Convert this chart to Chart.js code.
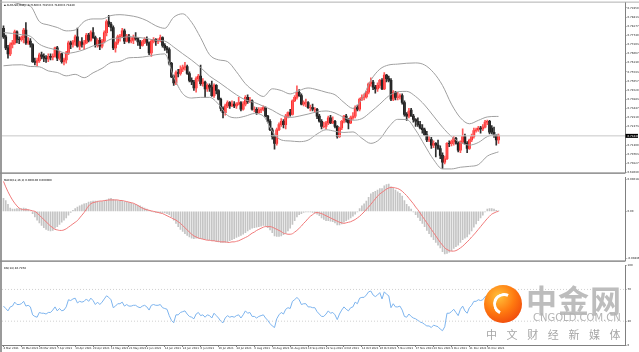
<!DOCTYPE html>
<html>
<head>
<meta charset="utf-8">
<title>AUDUSD Daily</title>
<script src="https://cdn.jsdelivr.net/npm/chart.js@4.4.1/dist/chart.umd.min.js"></script>
<style>
  html, body { margin:0; padding:0; background:#fff; }
  #wrap { position:relative; width:639px; height:352px; overflow:hidden; font-family:"DejaVu Sans", sans-serif; }
  .pane { position:absolute; left:0; width:639px; }
  #logo { position:absolute; left:484px; top:285px; width:38px; height:38px; border-radius:50%;
    background:radial-gradient(circle at 38% 30%, #ffc23a 0%, #ff7a10 45%, #e8300a 100%); }
  #logo:after { content:""; position:absolute; left:9px; top:8px; width:16px; height:16px; border-radius:50%;
    border:3px solid #fff; border-right-color:transparent; border-bottom-color:transparent; transform:rotate(-20deg); }
  .wm { position:absolute; white-space:nowrap; font-family:"Noto Sans CJK SC", sans-serif; }
</style>
</head>
<body>
<div id="wrap">
  <div class="pane" style="top:0;height:175px"><canvas id="mainChart"></canvas></div>
  <div class="pane" style="top:175px;height:88px"><canvas id="macdChart"></canvas></div>
  <div class="pane" style="top:263px;height:89px"><canvas id="rsiChart"></canvas></div>
  <div id="logo"></div>
  <div class="wm" style="left:526px;top:276px;font-size:31px;font-weight:bold;color:#bdbdbd;letter-spacing:1px">中金网</div>
  <div class="wm" style="left:533px;top:312px;font-size:10px;color:#b4b4b4;font-family:'DejaVu Sans'">CNGOLD.COM.CN</div>
  <div class="wm" style="left:486px;top:326px;font-size:11px;color:#a6a6a6;letter-spacing:9.6px">中文财经新媒体</div>
</div>
<script>
// AUDUSD daily, 4 Mar 2021 .. 7 Jan 2022, prices in 1/10000
var dateTicks = ["4 Mar 2021","16 Mar 2021","26 Mar 2021","7 Apr 2021","19 Apr 2021","29 Apr 2021","11 May 2021",
  "21 May 2021","2 Jun 2021","14 Jun 2021","24 Jun 2021","6 Jul 2021","16 Jul 2021","28 Jul 2021","9 Aug 2021",
  "19 Aug 2021","31 Aug 2021","10 Sep 2021","22 Sep 2021","4 Oct 2021","14 Oct 2021","26 Oct 2021","5 Nov 2021",
  "17 Nov 2021","29 Nov 2021","9 Dec 2021","21 Dec 2021","31 Dec 2021"]

var opens = [
7815,7765,7700,7665,7720,7730,7795,7750,7748,7760, 7805,7730,7740,7720,7620,7615,7625,7660,7650,7640,
7635,7650,7645,7650,7700,7640,7665,7620,7630,7670, 7730,7720,7735,7765,7710,7735,7720,7730,7775,7745,
7790,7760,7715,7745,7710,7740,7790,7855,7840,7820, 7700,7730,7765,7770,7800,7740,7770,7740,7745,7760,
7755,7735,7715,7735,7750,7730,7670,7740,7750,7740, 7745,7760,7715,7700,7690,7610,7530,7495,7555,7550,
7575,7585,7590,7550,7510,7500,7465,7520,7535,7490, 7500,7460,7480,7470,7420,7480,7450,7400,7345,7320,
7360,7380,7360,7370,7360,7370,7380,7340,7370,7410, 7385,7390,7340,7340,7320,7335,7340,7350,7300,7270,
7220,7180,7140,7220,7250,7270,7250,7300,7320,7310, 7390,7410,7440,7420,7370,7380,7380,7350,7350,7340,
7340,7300,7270,7240,7240,7260,7290,7260,7270,7240, 7180,7230,7270,7300,7280,7260,7290,7300,7350,7340,
7400,7410,7412,7440,7490,7500,7470,7460,7480,7510, 7460,7540,7520,7510,7400,7440,7410,7412,7420,7380,
7310,7300,7335,7300,7280,7270,7250,7230,7220,7190, 7160,7162,7130,7140,7130,7110,7070,7030,7050,7140,
7138,7150,7170,7140,7100,7150,7180,7140,7110,7160, 7180,7215,7220,7230,7225,7235,7265,7270,7230,7205,
7185,7160]
var highs = [
7830,7775,7715,7730,7745,7805,7800,7765,7770,7815, 7848,7760,7755,7725,7640,7640,7670,7675,7665,7655,
7665,7665,7665,7705,7710,7680,7670,7640,7680,7740, 7740,7745,7775,7816,7740,7760,7745,7785,7785,7800,
7820,7770,7755,7760,7750,7800,7865,7891,7850,7830, 7735,7775,7780,7815,7810,7780,7780,7760,7775,7790,
7760,7745,7745,7760,7765,7735,7750,7760,7755,7755, 7775,7765,7725,7710,7700,7615,7540,7565,7575,7595,
7600,7615,7600,7560,7525,7510,7530,7545,7600,7520, 7505,7490,7490,7505,7490,7485,7455,7405,7355,7370,
7390,7385,7390,7385,7380,7410,7385,7385,7420,7425, 7410,7395,7355,7350,7350,7350,7360,7355,7305,7280,
7230,7185,7230,7260,7285,7280,7310,7325,7340,7395, 7420,7478,7455,7430,7390,7400,7385,7365,7370,7350,
7345,7310,7280,7265,7270,7300,7305,7295,7275,7245, 7235,7275,7305,7310,7285,7300,7320,7360,7365,7405,
7425,7430,7445,7495,7525,7510,7480,7495,7515,7520, 7556,7545,7535,7520,7450,7445,7440,7430,7430,7390,
7320,7345,7345,7310,7285,7290,7270,7250,7230,7210, 7180,7175,7155,7145,7160,7125,7085,7065,7145,7155,
7160,7180,7175,7150,7155,7225,7195,7150,7165,7195, 7230,7230,7240,7240,7250,7275,7277,7275,7245,7236,
7190,7195]
var lows = [
7755,7690,7640,7655,7700,7720,7730,7725,7740,7730, 7720,7720,7705,7615,7600,7595,7615,7635,7620,7615,
7620,7630,7630,7645,7625,7630,7610,7600,7610,7660, 7695,7705,7715,7705,7690,7705,7690,7725,7735,7740,
7755,7705,7705,7690,7700,7730,7770,7825,7800,7690, 7675,7720,7740,7760,7725,7735,7730,7730,7725,7745,
7715,7695,7710,7725,7715,7660,7650,7730,7715,7725, 7735,7705,7685,7670,7600,7525,7480,7485,7530,7540,
7560,7570,7545,7500,7485,7450,7440,7505,7480,7475, 7410,7445,7445,7415,7410,7430,7395,7330,7290,7305,
7350,7345,7355,7350,7345,7365,7330,7335,7360,7375, 7380,7335,7325,7310,7315,7320,7330,7295,7260,7215,
7165,7106,7130,7215,7240,7230,7225,7290,7300,7305, 7385,7400,7415,7365,7360,7355,7345,7330,7330,7320,
7285,7265,7225,7230,7225,7250,7255,7255,7230,7170, 7175,7220,7260,7265,7225,7255,7280,7290,7330,7330,
7390,7395,7405,7430,7475,7455,7435,7445,7465,7455, 7455,7500,7500,7390,7390,7395,7395,7400,7370,7300,
7275,7290,7300,7265,7240,7240,7225,7200,7185,7150, 7150,7110,7115,7060,7105,7050,6993,7020,7045,7120,
7125,7130,7135,7090,7085,7140,7135,7085,7105,7150, 7170,7205,7210,7200,7215,7230,7250,7195,7195,7175,
7130,7140]
var closes = [
7765,7700,7665,7720,7730,7795,7750,7748,7760,7805, 7730,7740,7720,7620,7615,7625,7660,7650,7640,7635,
7650,7645,7650,7700,7640,7665,7620,7630,7670,7730, 7720,7735,7765,7710,7735,7720,7730,7775,7745,7790,
7760,7715,7745,7710,7740,7790,7855,7840,7820,7700, 7730,7765,7770,7800,7740,7770,7740,7745,7760,7755,
7735,7715,7735,7750,7730,7670,7740,7750,7740,7745, 7760,7715,7700,7690,7610,7530,7495,7555,7550,7575,
7585,7590,7550,7510,7500,7465,7520,7535,7490,7500, 7460,7480,7470,7420,7480,7450,7400,7345,7320,7360,
7380,7360,7370,7360,7370,7380,7340,7370,7410,7385, 7390,7340,7340,7320,7335,7340,7350,7300,7270,7220,
7180,7140,7220,7250,7270,7250,7300,7320,7310,7390, 7410,7440,7420,7370,7380,7380,7350,7350,7340,7340,
7300,7270,7240,7240,7260,7290,7260,7270,7240,7180, 7230,7270,7300,7280,7260,7290,7300,7350,7340,7400,
7410,7412,7440,7490,7500,7470,7460,7480,7510,7460, 7540,7520,7510,7400,7440,7410,7412,7420,7380,7310,
7300,7330,7300,7280,7270,7250,7230,7220,7190,7160, 7162,7130,7140,7130,7110,7070,7030,7050,7140,7138,
7150,7170,7140,7100,7150,7180,7140,7110,7160,7180, 7215,7220,7230,7225,7235,7265,7270,7205,7205,7185,
7160,7184]

// Bollinger Bands (20,2), read every 4 bars
var bbBars = [0,4,8,12,16,20,24,28,32,36,40,44,48,52,56,60,64,68,72,76,80,84,88,92,96,100,104,108,112,116,
  120,124,128,132,136,140,144,148,152,156,160,164,168,172,176,180,184,188,192,196,200,204,208,212,216,220,221]
var bbMiddle = [7790,7785,7778,7768,7722,7700,7688,7668,7675,7690,7712,7725,7752,7758,7766,7762,7755,7745,7740,7705,
  7666,7628,7585,7535,7500,7462,7425,7395,7380,7358,7335,7305,7292,7300,7312,7325,7330,7318,7292,7276,
  7285,7325,7370,7418,7443,7445,7415,7365,7300,7235,7180,7145,7130,7145,7180,7192,7194]
var bbUpper = [7985,7970,7955,7945,7855,7835,7820,7800,7805,7855,7870,7870,7890,7895,7890,7880,7860,7830,7815,7880,
  7900,7850,7760,7660,7630,7620,7560,7490,7445,7415,7460,7450,7430,7450,7465,7455,7440,7425,7380,7345,
  7400,7510,7575,7600,7605,7610,7612,7600,7555,7480,7370,7290,7255,7275,7295,7298,7298]
var bbLower = [7595,7600,7601,7591,7589,7565,7556,7536,7545,7525,7554,7580,7614,7621,7642,7644,7650,7660,7665,7530,
  7432,7406,7410,7410,7370,7304,7290,7300,7315,7301,7210,7160,7154,7150,7159,7195,7220,7211,7204,7207,
  7170,7140,7165,7236,7281,7280,7218,7130,7045,6990,6990,7000,7005,7015,7065,7086,7090]

// MACD(12,26,9) main histogram and signal, in 1/10000
var macdMain = [
 24, 20, 13,  6,  4,  4,  5,  5,  5,  6,   5,  3,  1, -4,-10,-16,-21,-26,-30,-33,
-35,-36,-35,-31,-28,-24,-20,-16,-12, -7,  -2,  2,  5,  8, 10, 12, 14, 15, 17, 18,
 19, 19, 19, 18, 18, 19, 21, 23, 24, 22,  21, 20, 19, 19, 18, 17, 16, 15, 14, 13,
 11, 10,  8,  6,  4,  2,  0, -1, -2, -2,  -3, -3, -3, -4, -6,-10,-16,-22,-28,-33,
-37,-41,-44,-47,-49,-50,-49,-49,-50,-50, -51,-52,-53,-54,-54,-55,-56,-57,-57,-57,
-56,-54,-52,-50,-48,-46,-44,-42,-39,-36, -33,-31,-30,-29,-28,-27,-26,-27,-30,-34,
-39,-45,-46,-46,-45,-43,-40,-36,-31,-24, -17,-10, -6, -4, -2, -1, -1, -1, -2, -3,
 -5, -8,-12,-15,-17,-17,-18,-19,-21,-25, -25,-23,-20,-17,-15,-12, -9, -5, -1,  5,
 10, 14, 19, 26, 32, 35, 37, 39, 42, 42,  47, 49, 50, 45, 43, 39, 36, 33, 28, 20,
 13,  9,  4, -1, -6,-11,-17,-22,-28,-35, -41,-47,-52,-57,-62,-67,-74,-78,-77,-75,
-72,-68,-65,-62,-57,-52,-49,-47,-42,-36, -29,-23,-17,-12, -7, -1,  4,  5,  5,  4,
  2,  1]
var macdSignal = [
 55, 45, 36, 28, 21, 15, 10,  6,  4,  3,   3,  3,  2,  1,  0, -3, -7,-11,-15,-19,
-23,-27,-30,-33,-34,-35,-35,-34,-32,-29, -26,-23,-20,-17,-12, -7, -2,  4, 10, 14,
 16, 17, 18, 19, 19, 20, 20, 21, 21, 21,  21, 21, 20, 20, 19, 18, 17, 16, 15, 13,
 11,  8,  6,  4,  3,  2,  1,  0, -1, -2,  -3, -4, -6, -8,-10,-12,-14,-16,-19,-22,
-26,-30,-34,-38,-42,-45,-47,-49,-50,-51, -52,-53,-53,-54,-54,-55,-55,-56,-56,-56,
-57,-57,-56,-56,-55,-54,-52,-50,-48,-46, -43,-40,-38,-35,-33,-31,-29,-28,-28,-28,
-29,-31,-33,-35,-37,-40,-41,-42,-42,-41, -38,-35,-31,-27,-22,-18,-13, -9, -6, -3,
 -2, -3, -4, -6, -8,-10,-12,-14,-16,-18, -20,-21,-22,-21,-20,-19,-17,-15,-12, -9,
 -5, -1,  4,  8, 13, 18, 23, 28, 32, 35,  38, 41, 43, 44, 44, 43, 42, 40, 37, 33,
 29, 24, 19, 14,  8,  3, -3, -9,-15,-21, -27,-33,-39,-45,-51,-57,-62,-67,-70,-72,
-73,-73,-72,-70,-67,-64,-60,-56,-52,-47, -43,-38,-33,-28,-23,-18,-13, -9, -5, -3,
 -1,  0]

// RSI(14)
var rsiVals = [
 49, 46, 43, 48, 49, 54, 51, 51, 52, 55,  49, 50, 48, 38, 36, 35, 41, 40, 40, 39,
 41, 41, 44, 48, 43, 46, 43, 44, 48, 57,  56, 58, 59, 53, 55, 54, 55, 58, 55, 59,
 56, 51, 54, 51, 54, 58, 62, 60, 57, 47,  49, 52, 52, 54, 49, 51, 49, 49, 50, 50,
 48, 47, 49, 50, 48, 44, 50, 51, 50, 50,  51, 47, 46, 45, 37, 31, 28, 38, 38, 41,
 42, 43, 39, 36, 35, 33, 39, 41, 37, 38,  35, 38, 37, 34, 40, 37, 34, 30, 28, 34,
 37, 35, 36, 35, 37, 38, 34, 38, 43, 40,  41, 36, 36, 34, 36, 37, 38, 34, 31, 27,
 24, 22, 33, 38, 41, 39, 45, 47, 46, 55,  57, 60, 57, 51, 52, 52, 48, 48, 47, 47,
 42, 39, 36, 36, 39, 43, 40, 41, 38, 32,  39, 44, 48, 45, 43, 47, 48, 54, 52, 59,
 60, 60, 63, 67, 68, 63, 61, 63, 66, 58,  67, 64, 62, 47, 52, 48, 48, 49, 44, 36,
 35, 39, 36, 34, 33, 31, 29, 28, 26, 24,  24, 22, 25, 24, 23, 20, 18, 23, 40, 40,
 42, 45, 41, 37, 45, 49, 43, 40, 47, 50,  55, 55, 57, 56, 57, 61, 62, 51, 51, 48,
 45, 46.7978]

var priceTicks = ["0.79350","0.78813","0.78277","0.77740","0.77203","0.76667","0.76130","0.75593","0.75057",
  "0.74520","0.73983","0.73447","0.72910","0.72373","0.71300","0.70763","0.70227","0.69690"]

// ---- layout ----
var X_MIN = -0.67, X_MAX = 277.7
var AXIS_W = 13.5
var GRAY = '#a0a0a0'
var FONT = {family:'"DejaVu Sans", sans-serif', size:2.7}
var FONT_CSS = '2.7px "DejaVu Sans"'
var N = closes.length
var P = function(v){ return v/10000 }
var last = P(closes[N-1])

function frame(name, opts){
  return {
    id: name,
    afterDraw: function(chart){
      var c = chart.ctx, a = chart.chartArea
      c.save()
      c.fillStyle = '#9a9a9a'
      c.fillRect(0, 0, 2, chart.height)
      if (opts.top) { c.fillStyle = '#b0b0b0'; c.fillRect(0, a.top-1, chart.width, 1) }
      if (opts.bottom) { c.fillStyle = '#8c8c8c'; c.fillRect(0, a.bottom, a.right, 1.5) }
      if (opts.text) {
        c.fillStyle = '#000'; c.font = FONT_CSS; c.textBaseline = 'middle'
        c.fillText(opts.text, 4, a.top + 3)
      }
      c.restore()
    }
  }
}

var priceBox = {
  id:'priceBox',
  afterDraw: function(chart){
    var y = chart.scales.y.getPixelForValue(last)
    var c = chart.ctx, a = chart.chartArea
    c.save()
    c.fillStyle = '#000'
    c.fillRect(a.right, y-2, chart.width-a.right-1, 4)
    c.fillStyle = '#fff'; c.font = FONT_CSS; c.textBaseline='middle'
    c.fillText(last.toFixed(5), a.right+2, y)
    c.restore()
  }
}

function fixedY(w){ return function(s){ s.width = w } }
function xScale(show){ return { type:'linear', min:X_MIN, max:X_MAX, display:show, offset:false } }
function series(arr, scale){ return arr.map(function(v,i){ return {x:i, y:v*scale} }) }
function bbSeries(arr){ return arr.map(function(v,k){ return {x:bbBars[k], y:P(v)} }) }

// candles: wick and body as floating bars on the same x
var wickData = [], bodyData = [], wickColors = [], bodyColors = []
closes.forEach(function(c,i){
  var up = c >= opens[i]
  wickData.push({x:i, y:[P(lows[i]), P(highs[i])]})
  bodyData.push({x:i, y:[P(opens[i]), P(c)]})
  wickColors.push(up ? '#ff5a5a' : '#303030')
  bodyColors.push(up ? '#ff0000' : '#000000')
})

new Chart(document.getElementById('mainChart'), {
  type:'bar',
  data:{ datasets:[
    {type:'line', data:[{x:X_MIN,y:last},{x:X_MAX,y:last}], borderColor:'#c8c8c8', borderWidth:1, pointRadius:0},
    {type:'line', data:bbSeries(bbUpper), borderColor:GRAY, borderWidth:1, pointRadius:0, cubicInterpolationMode:'monotone'},
    {type:'line', data:bbSeries(bbMiddle), borderColor:GRAY, borderWidth:1, pointRadius:0, cubicInterpolationMode:'monotone'},
    {type:'line', data:bbSeries(bbLower), borderColor:GRAY, borderWidth:1, pointRadius:0, cubicInterpolationMode:'monotone'},
    {data:wickData, backgroundColor:wickColors, barThickness:1, grouped:false},
    {data:bodyData, backgroundColor:bodyColors, barThickness:2, grouped:false}
  ]},
  options:{
    responsive:true, maintainAspectRatio:false, animation:false,
    layout:{ autoPadding:false, padding:{left:2, top:2, right:0, bottom:1} },
    plugins:{ legend:{display:false}, tooltip:{enabled:false} },
    scales:{
      x: xScale(false),
      y:{ position:'right', min:0.69698, max:0.79657, afterFit:fixedY(AXIS_W),
        afterBuildTicks:function(s){ s.ticks = priceTicks.map(function(t){ return {value:parseFloat(t)} }) },
        ticks:{ font:FONT, color:'#222', padding:1, callback:function(v,i){ return priceTicks[i] } },
        grid:{ display:true, drawOnChartArea:false, drawTicks:true, tickLength:1, color:'#808080' },
        border:{ display:true, color:'#808080', width:1 } }
    }
  },
  plugins:[frame('f1',{top:true, bottom:true, text:'\u25AA AUDUSD,Daily  ' + [opens[N-1],highs[N-1],lows[N-1],closes[N-1]].map(function(v){ return P(v).toFixed(5) }).join(' ')}), priceBox]
})

new Chart(document.getElementById('macdChart'), {
  type:'bar',
  data:{ datasets:[
    {type:'line', data:series(macdSignal, 1e-4), borderColor:'#f07a7a', borderWidth:1, pointRadius:0, cubicInterpolationMode:'monotone'},
    {data:series(macdMain, 1e-4), backgroundColor:'#c4c4c4', barThickness:1}
  ]},
  options:{
    responsive:true, maintainAspectRatio:false, animation:false,
    layout:{ autoPadding:false, padding:{left:2, top:0.5, right:0, bottom:0.5} },
    plugins:{ legend:{display:false}, tooltip:{enabled:false} },
    scales:{
      x: xScale(false),
      y:{ position:'right', min:-0.0090, max:0.0062, afterFit:fixedY(AXIS_W),
        afterBuildTicks:function(s){ s.ticks = [{value:0.0059},{value:0},{value:-0.0087}] },
        ticks:{ font:FONT, color:'#222', padding:1, callback:function(v){ return v===0 ? '0.00' : (v>0?'0.006183':'-0.008965') } },
        grid:{ display:true, drawOnChartArea:false, drawTicks:true, tickLength:1, color:'#808080' },
        border:{ display:true, color:'#808080', width:1 } }
    }
  },
  plugins:[frame('f2',{bottom:true, text:'MACD(12,26,9) ' + (macdMain[N-1]*1e-4).toFixed(6) + ' ' + (macdSignal[N-1]*1e-4).toFixed(6)})]
})

new Chart(document.getElementById('rsiChart'), {
  type:'line',
  data:{ datasets:[
    {data:[{x:X_MIN,y:70},{x:X_MAX,y:70}], borderColor:'#d0d0d0', borderWidth:1, borderDash:[1,2], pointRadius:0},
    {data:[{x:X_MIN,y:30},{x:X_MAX,y:30}], borderColor:'#d0d0d0', borderWidth:1, borderDash:[1,2], pointRadius:0},
    {data:series(rsiVals, 1), borderColor:'#7db4ee', borderWidth:1, pointRadius:0}
  ]},
  options:{
    responsive:true, maintainAspectRatio:false, animation:false,
    layout:{ autoPadding:false, padding:{left:2, top:1, right:0, bottom:0} },
    plugins:{ legend:{display:false}, tooltip:{enabled:false} },
    scales:{
      x:{ type:'linear', min:X_MIN, max:X_MAX, position:'bottom', afterFit:function(s){ s.height = 7 },
        afterBuildTicks:function(s){ s.ticks = dateTicks.map(function(d,k){ return {value:k*8} }) },
        ticks:{ font:FONT, color:'#222', align:'start', padding:0, maxRotation:0, autoSkip:false,
          callback:function(v,i){ return dateTicks[i] } },
        grid:{ display:true, drawOnChartArea:false, drawTicks:true, tickLength:2, color:'#808080' },
        border:{ display:true, color:'#808080', width:1 } },
      y:{ position:'right', min:0, max:100, afterFit:fixedY(AXIS_W),
        afterBuildTicks:function(s){ s.ticks = [{value:100},{value:70},{value:30},{value:0}] },
        ticks:{ font:FONT, color:'#222', padding:1 },
        grid:{ display:true, drawOnChartArea:false, drawTicks:true, tickLength:1, color:'#808080' },
        border:{ display:true, color:'#808080', width:1 } }
    }
  },
  plugins:[frame('f3',{text:'RSI(14) ' + rsiVals[N-1].toFixed(4)})]
})
</script>
</body>
</html>
